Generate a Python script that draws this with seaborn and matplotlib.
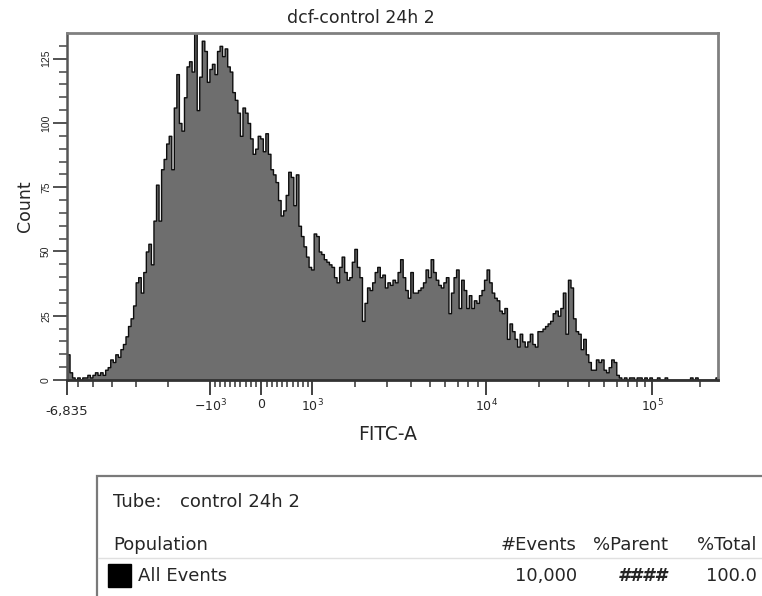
import numpy as np
import pandas as pd
import matplotlib
matplotlib.use("Agg")
import matplotlib.pyplot as plt
import matplotlib.transforms as mtransforms
from matplotlib.patches import Rectangle
from matplotlib.lines import Line2D
from matplotlib.ticker import FixedLocator, FixedFormatter, NullFormatter
import seaborn as sns

# ---------------------------------------------------------------- data
TITLE = "dcf-control 24h 2"
TUBE = "control 24h 2"
X_LABEL = "FITC-A"
Y_LABEL = "Count"

# biexponential (logicle) axis parameters
TOP_VALUE = 262144.0
DECADES = 3.8
LINEAR_WIDTH = 0.84
X_MIN = -6835.0
X_MIN_LABEL = "-6,835"

# events per display channel, 256 channels spanning X_MIN .. TOP_VALUE
counts = [
    10, 3, 1, 0, 1, 0, 1, 1, 2, 1,
    2, 3, 2, 3, 2, 4, 5, 8, 7, 10,
    9, 12, 14, 17, 21, 24, 29, 38, 40, 34,
    42, 50, 53, 45, 62, 76, 62, 82, 86, 92,
    95, 82, 106, 119, 100, 97, 110, 122, 124, 120,
    138, 105, 118, 132, 128, 116, 121, 123, 119, 128,
    130, 126, 129, 122, 120, 112, 109, 104, 95, 106,
    104, 100, 94, 88, 90, 95, 94, 89, 96, 88,
    82, 80, 77, 70, 64, 66, 72, 81, 79, 68,
    80, 60, 56, 52, 48, 44, 43, 57, 56, 50,
    49, 47, 46, 45, 44, 40, 38, 44, 48, 42,
    39, 40, 46, 51, 44, 40, 23, 30, 36, 35,
    38, 42, 44, 40, 41, 36, 38, 37, 39, 38,
    42, 47, 40, 35, 32, 42, 34, 34, 35, 36,
    38, 43, 40, 47, 42, 39, 37, 36, 38, 40,
    26, 34, 40, 43, 28, 39, 35, 28, 33, 28,
    31, 30, 33, 35, 39, 43, 38, 34, 32, 31,
    27, 26, 28, 16, 22, 19, 16, 13, 18, 15,
    13, 15, 18, 14, 13, 19, 19, 20, 21, 22,
    23, 26, 27, 25, 28, 34, 18, 39, 36, 24,
    19, 18, 12, 16, 10, 7, 4, 4, 8, 7,
    8, 4, 3, 5, 8, 7, 2, 1, 0, 1,
    0, 1, 1, 0, 1, 1, 0, 1, 0, 1,
    0, 0, 1, 0, 0, 1, 0, 0, 0, 0,
    0, 0, 0, 0, 0, 1, 0, 1, 0, 0,
    0, 0, 0, 0, 0, 1,
]

x_major_ticks = [X_MIN, -1000, 0, 1000, 1e4, 1e5]
x_major_labels = ["", r"$-10^3$", "0", r"$10^3$", r"$10^4$", r"$10^5$"]
x_minor_ticks = ([-6000, -5000, -4000, -3000, -2000]
                 + [v for v in range(-900, 1000, 100) if v != 0]
                 + [2000, 3000, 4000, 5000, 6000, 7000, 8000, 9000]
                 + [20000, 30000, 40000, 50000, 60000, 70000, 80000, 90000]
                 + [200000])
y_major_ticks = [0, 25, 50, 75, 100, 125]
y_minor_ticks = [v for v in range(0, 135, 5) if v % 25]
Y_MAX = 135

table_header = ["#Events", "%Parent", "%Total"]
population = "All Events"
population_values = ["10,000", "####", "100.0"]

# ---------------------------------------------------------------- logicle scale
def logicle_coefficients(T, W, M, A=0.0):
    w = W / (M + A)
    x2 = A / (M + A)
    x1 = x2 + w
    x0 = x2 + 2.0 * w
    b = (M + A) * np.log(10.0)
    lo, hi = 1e-9, b
    for _ in range(200):
        d = 0.5 * (lo + hi)
        if 2.0 * (np.log(d) - np.log(b)) + w * (b + d) > 0:
            hi = d
        else:
            lo = d
    d = 0.5 * (lo + hi)
    ca = np.exp(x0 * (b + d))
    mfa = np.exp(b * x1) - ca * np.exp(-d * x1)
    a = T / ((np.exp(b) - mfa) - ca * np.exp(-d))
    return a, b, ca * a, d, -mfa * a, x1


LA, LB, LC, LD, LF, LX1 = logicle_coefficients(TOP_VALUE, LINEAR_WIDTH, DECADES)


def from_display(p):
    p = np.asarray(p, dtype=float)
    r = np.where(p >= LX1, p, 2.0 * LX1 - p)
    s = LA * np.exp(LB * r) - LC * np.exp(-LD * r) + LF
    return np.where(p >= LX1, s, -s)


_grid = np.linspace(-0.6, 1.4, 80001)
_grid_vals = from_display(_grid)


def to_display(v):
    return np.interp(np.asarray(v, dtype=float), _grid_vals, _grid)


# ---------------------------------------------------------------- figure
sns.set_style("white")
plt.rcParams["font.family"] = ["DejaVu Sans"]
plt.rcParams["mathtext.fontset"] = "dejavusans"
plt.rcParams["mathtext.default"] = "regular"

TEXT = "#262626"
W_PX, H_PX = 762, 596
fig = plt.figure(figsize=(W_PX / 100, H_PX / 100), dpi=100)
fig.patch.set_facecolor("white")


def fx(px):
    return px / W_PX


def fy(py):
    return 1.0 - py / H_PX


ax = fig.add_axes([fx(67), fy(380), fx(718) - fx(67), fy(33) - fy(380)])

# channels are equal-width in display space
disp_lo = float(to_display(X_MIN))
edges_disp = np.linspace(disp_lo, 1.0, len(counts) + 1)
edges = [float(v) for v in from_display(edges_disp)]
centers = from_display(0.5 * (edges_disp[:-1] + edges_disp[1:]))
df = pd.DataFrame({"FITC-A": centers, "events": counts})

sns.histplot(data=df, x="FITC-A", weights="events", bins=edges,
             element="step", fill=True, color="#6e6e6e", edgecolor="#0d0d0d",
             linewidth=1.0, alpha=1.0, ax=ax)

ax.set_xscale("function", functions=(to_display, from_display))
ax.set_xlim(X_MIN, TOP_VALUE)
ax.set_ylim(0, Y_MAX)
ax.set_xlabel("")
ax.set_ylabel("")

# x axis ticks
ax.xaxis.set_major_locator(FixedLocator(x_major_ticks))
ax.xaxis.set_major_formatter(FixedFormatter(x_major_labels))
ax.xaxis.set_minor_locator(FixedLocator(x_minor_ticks))
ax.xaxis.set_minor_formatter(NullFormatter())
ax.tick_params(axis="x", which="major", length=11, width=1.3, color="#333333",
               pad=2, labelsize=9, labelcolor=TEXT, direction="out",
               bottom=True)
ax.tick_params(axis="x", which="minor", length=5, width=1.1, color="#333333",
               direction="out", bottom=True)

# y axis ticks
ax.yaxis.set_major_locator(FixedLocator(y_major_ticks))
ax.yaxis.set_minor_locator(FixedLocator(y_minor_ticks))
ax.yaxis.set_minor_formatter(NullFormatter())
ax.tick_params(axis="y", which="major", length=10, width=1.3, color="#444444",
               pad=1.5, labelcolor=TEXT, direction="out", left=True)
ax.tick_params(axis="y", which="minor", length=6, width=1.1, color="#444444",
               direction="out", left=True)
for lab in ax.get_yticklabels():
    lab.set_rotation(90)
    lab.set_va("center")
    lab.set_fontfamily("Liberation Sans")
    lab.set_fontsize(7.5)

for side in ("top", "right"):
    ax.spines[side].set_color("#808080")
    ax.spines[side].set_linewidth(2.0)
ax.spines["left"].set_color("#555555")
ax.spines["left"].set_linewidth(1.8)
ax.spines["bottom"].set_color("#333333")
ax.spines["bottom"].set_linewidth(2.0)
ax.grid(False)

# lower bound label sits below the other tick labels
edge_tf = mtransforms.blended_transform_factory(ax.transData, fig.transFigure)
ax.text(X_MIN, fy(412), X_MIN_LABEL, transform=edge_tf, ha="center",
        va="center", fontsize=9.5, color=TEXT)

fig.text(fx(361), fy(18), TITLE, ha="center", va="center", fontsize=12.5,
         color=TEXT)
fig.text(fx(25), fy(206), Y_LABEL, ha="center", va="center", rotation=90,
         fontsize=12.5, color=TEXT)
fig.text(fx(388), fy(435), X_LABEL, ha="center", va="center", fontsize=13.5,
         color=TEXT)

# ---------------------------------------------------------------- statistics box
fig.add_artist(Rectangle((fx(97), fy(640)), fx(800) - fx(97), fy(476) - fy(640),
                         transform=fig.transFigure, fill=False,
                         edgecolor="#7a7a7a", linewidth=1.6))
fig.add_artist(Line2D([fx(98), fx(762)], [fy(558), fy(558)],
                      transform=fig.transFigure, color="#e0e0e0", linewidth=1.0))

TABLE_FS = 13
fig.text(fx(113), fy(502), "Tube:", ha="left", va="center", fontsize=TABLE_FS,
         color=TEXT)
fig.text(fx(180), fy(502), TUBE, ha="left", va="center", fontsize=TABLE_FS,
         color=TEXT)
fig.text(fx(113), fy(545), "Population", ha="left", va="center",
         fontsize=TABLE_FS, color=TEXT)

col_right = [577, 668, 757]
for name, xr in zip(table_header, col_right):
    fig.text(fx(xr), fy(545), name, ha="right", va="center",
             fontsize=TABLE_FS, color=TEXT)

fig.add_artist(Rectangle((fx(108), fy(587)), fx(131) - fx(108), fy(564) - fy(587),
                         transform=fig.transFigure, facecolor="black",
                         edgecolor="black"))
fig.text(fx(138), fy(576), population, ha="left", va="center",
         fontsize=TABLE_FS, color=TEXT)
for val, xr in zip(population_values, col_right):
    kw = dict(fontweight="bold", fontstyle="italic") if val.startswith("#") else {}
    fig.text(fx(xr), fy(576), val, ha="right", va="center",
             fontsize=TABLE_FS, color=TEXT, **kw)

fig.savefig("out.png", dpi=100, facecolor="white")
